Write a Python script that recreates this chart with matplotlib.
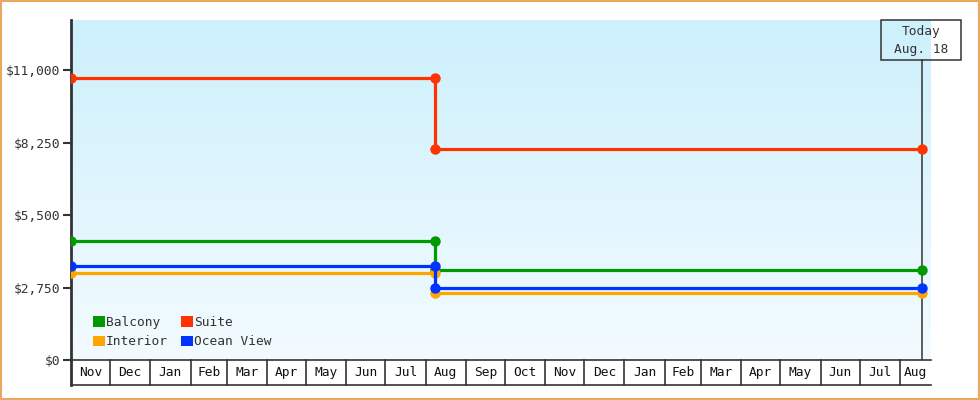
import matplotlib
matplotlib.use("Agg")
import matplotlib.pyplot as plt
import matplotlib.dates as mdates
import matplotlib.transforms as mtransforms
from matplotlib.patches import Patch, Rectangle
from matplotlib.colors import LinearSegmentedColormap
import numpy as np
import datetime as dt

# price history (start, change date, today)
start_date = dt.date(2021, 11, 1)
change_date = dt.date(2022, 8, 8)
today_date = dt.date(2023, 8, 18)
end_date = dt.date(2023, 8, 25)

cabins = ["Balcony", "Interior", "Suite", "Ocean View"]
colors = ["#009900", "#ffa500", "#ff3300", "#0033ff"]
price_before = [4520, 3300, 10700, 3560]
price_after = [3420, 2540, 8000, 2720]

y_ticks = [0, 2750, 5500, 8250, 11000]
y_max = 12900

FONT = "DejaVu Sans Mono"
FS = 9.3
W, H = 980, 400

fig = plt.figure(figsize=(9.8, 4.0), dpi=100)
ax = fig.add_axes([71 / W, 40 / H, 860 / W, 340 / H])

x0 = mdates.date2num(start_date)
x1 = mdates.date2num(end_date)
ax.set_xlim(x0, x1)
ax.set_ylim(0, y_max)

# background gradient
grad = np.linspace(0, 1, 256).reshape(-1, 1)
cmap = LinearSegmentedColormap.from_list("bg", ["#f3fbff", "#ccf0fc"])
ax.imshow(grad, cmap=cmap, aspect="auto", origin="lower",
          extent=[x0, x1, 0, y_max], zorder=0)

xs = mdates.date2num([start_date, change_date, change_date, today_date])
for name, c, a, b in zip(cabins, colors, price_before, price_after):
    ax.plot(xs, [a, a, b, b], color=c, lw=2.3, marker="o", ms=6.5,
            solid_joinstyle="miter", zorder=3)

# today line and box
tx = mdates.date2num(today_date)
box_top, box_bot = 20, 60
ax.plot([tx, tx], [0, (360 - box_bot) / 340 * y_max], color="#333333", lw=1.1, zorder=2)
tx_px = 921
fig.patches.append(Rectangle(((tx_px - 40) / W, 1 - box_bot / H), 80 / W, (box_bot - box_top) / H,
                             transform=fig.transFigure, fill=False, ec="#333333", lw=1.1))
fig.text(tx_px / W, 1 - 32 / H, "Today", ha="center", va="center",
         family=FONT, fontsize=FS, color="#333333")
fig.text(tx_px / W, 1 - 50 / H, "Aug. 18", ha="center", va="center",
         family=FONT, fontsize=FS, color="#333333")

# axes styling
for s in ["top", "right", "bottom"]:
    ax.spines[s].set_visible(False)
ax.spines["left"].set_color("#333333")
ax.spines["left"].set_linewidth(2)
ax.spines["left"].set_bounds(0, y_max)
ax.set_xticks([])
ax.set_yticks(y_ticks)
ax.set_yticklabels(["${:,}".format(v) for v in y_ticks], family=FONT, fontsize=FS, color="#333333")
ax.tick_params(axis="y", length=6, width=1.5, color="#333333", pad=2)

# month boxes below the axis
trans_ax = mtransforms.blended_transform_factory(ax.transData, ax.transAxes)
box_h = 25 / 340
ax.plot([0, 0], [0, -box_h], transform=ax.transAxes, color="#333333", lw=2, clip_on=False)
ax.plot([0, 1], [0, 0], transform=ax.transAxes, color="#333333", lw=1.2, clip_on=False)
ax.plot([0, 1], [-box_h, -box_h], transform=ax.transAxes, color="#333333", lw=1.2, clip_on=False)
m = dt.date(start_date.year, start_date.month, 1)
while m < end_date:
    nxt = dt.date(m.year + (m.month == 12), m.month % 12 + 1, 1)
    a = mdates.date2num(m)
    b = min(mdates.date2num(nxt), x1)
    if m != start_date:
        ax.plot([a, a], [0, -box_h], transform=trans_ax, color="#333333", lw=1.2, clip_on=False)
    ax.text((a + b) / 2, -box_h / 2, m.strftime("%b"), transform=trans_ax, ha="center",
            va="center", family=FONT, fontsize=FS, color="#111111")
    m = nxt

# legend
handles = [Patch(fc=c, ec="none") for c in colors]
leg = ax.legend(handles, cabins, ncol=2, loc="lower left", bbox_to_anchor=(0.012, 0.0),
                frameon=False, handlelength=0.9, handleheight=0.9, handletextpad=0.12,
                columnspacing=1.0, labelspacing=0.5, prop=dict(family=FONT, size=FS))
for t in leg.get_texts():
    t.set_color("#333333")

# outer border
fig.patches.append(Rectangle((0.001, 0.002), 0.998, 0.996, transform=fig.transFigure,
                             fill=False, ec="#e8a860", lw=1.5))

fig.savefig("out.png", dpi=100)
